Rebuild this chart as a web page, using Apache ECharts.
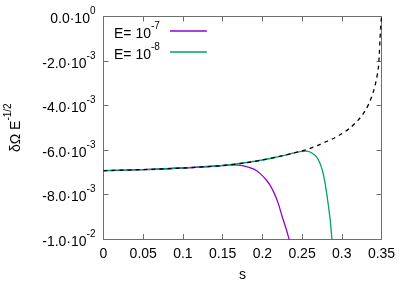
<!DOCTYPE html>
<html><head><meta charset="utf-8">
<script src="https://cdn.jsdelivr.net/npm/echarts@6/dist/echarts.min.js"></script>
<style>html,body{margin:0;padding:0;background:#fff}#c{width:407px;height:285px}</style>
</head><body><div id="c"></div>
<script>
// ---- data ----
var sDashed = [0, 0.05, 0.1, 0.15, 0.18, 0.2, 0.22, 0.24, 0.25, 0.26, 0.27, 0.28, 0.29, 0.3, 0.31, 0.32, 0.325, 0.33, 0.335, 0.34, 0.343, 0.346, 0.3472, 0.348, 0.349, 0.35];
var vDashed = [-6.93e-3, -6.88e-3, -6.81e-3, -6.70e-3, -6.57e-3, -6.45e-3, -6.30e-3, -6.13e-3, -6.04e-3, -5.93e-3, -5.79e-3, -5.63e-3, -5.47e-3, -5.27e-3, -5.02e-3, -4.68e-3, -4.47e-3, -4.20e-3, -3.85e-3, -3.35e-3, -2.93e-3, -2.33e-3, -1.70e-3, -1.10e-3, -0.45e-3, 0];

var sE7 = [0, 0.05, 0.1, 0.14, 0.16, 0.17, 0.18, 0.19, 0.197, 0.205, 0.21, 0.215, 0.22, 0.225, 0.23, 0.234, 0.236];
var vE7 = [-6.93e-3, -6.88e-3, -6.81e-3, -6.72e-3, -6.67e-3, -6.68e-3, -6.75e-3, -6.87e-3, -7.05e-3, -7.35e-3, -7.60e-3, -7.95e-3, -8.40e-3, -9.00e-3, -9.55e-3, -10.05e-3, -10.3e-3];

var sE8 = [0, 0.05, 0.1, 0.15, 0.2, 0.22, 0.24, 0.25, 0.255, 0.26, 0.265, 0.2685, 0.272, 0.275, 0.278, 0.281, 0.2835, 0.2855, 0.2873, 0.288];
var vE8 = [-6.93e-3, -6.88e-3, -6.81e-3, -6.70e-3, -6.45e-3, -6.30e-3, -6.13e-3, -6.06e-3, -6.05e-3, -6.09e-3, -6.20e-3, -6.32e-3, -6.55e-3, -6.85e-3, -7.30e-3, -7.95e-3, -8.60e-3, -9.15e-3, -9.90e-3, -10.2e-3];

var seriesNames = ['E7', 'E8'];
var legendExponents = ['-7', '-8'];
var xTickLabels = ['0', '0.05', '0.1', '0.15', '0.2', '0.25', '0.3', '0.35'];
// y tick labels from bottom (-0.01) to top (0): [mantissa, exponent]
var yTickLabels = [['-1.0', '-2'], ['-8.0', '-3'], ['-6.0', '-3'], ['-4.0', '-3'], ['-2.0', '-3'], ['0.0', '0']];

function zip(a, b) { return a.map(function (v, i) { return [v, b[i]]; }); }

var FONT = 'Liberation Sans';
var supStyle = { fontFamily: FONT, fontSize: 10, color: '#000', verticalAlign: 'top', lineHeight: 20 };
var baseStyle = { fontFamily: FONT, fontSize: 14, color: '#000', verticalAlign: 'bottom', lineHeight: 20 };
var legendSup = Object.assign({}, supStyle, { padding: [0, 5, 0, 0] });

var chart = echarts.init(document.getElementById('c'), null, { renderer: 'canvas' });
var axisLineStyle = { color: '#6e6e6e', width: 1 };

var option = {
  animation: false,
  backgroundColor: '#fff',
  grid: { left: 103.5, right: 25.5, top: 16.5, bottom: 46, containLabel: false, outerBoundsMode: 'none' },
  legend: {
    data: seriesNames.map(function (n) { return { name: n, icon: 'rect' }; }),
    orient: 'vertical',
    left: 109,
    top: 16,
    align: 'right',
    itemWidth: 37,
    itemHeight: 1.5,
    itemGap: 1,
    formatter: function (name) {
      var i = seriesNames.indexOf(name);
      return '{a|E= 10}{b|' + legendExponents[i] + '}';
    },
    textStyle: {
      rich: { a: baseStyle, b: legendSup }
    }
  },
  xAxis: [{
    type: 'value', min: 0, max: 0.35, interval: 0.05,
    name: 's', nameLocation: 'middle', nameGap: 29,
    nameTextStyle: { fontFamily: FONT, fontSize: 14, color: '#000' },
    axisLine: { show: true, onZero: false, lineStyle: axisLineStyle },
    axisTick: { show: true, inside: true, length: 5, lineStyle: axisLineStyle },
    axisLabel: {
      margin: 8, fontFamily: FONT, fontSize: 14, color: '#000',
      formatter: function (v) { return xTickLabels[Math.round(v / 0.05)]; }
    },
    splitLine: { show: false }
  }, {
    type: 'value', min: 0, max: 0.35, interval: 0.05, position: 'top',
    axisLine: { show: true, onZero: false, lineStyle: axisLineStyle },
    axisTick: { show: true, inside: true, length: 5, lineStyle: axisLineStyle },
    axisLabel: { show: false }, splitLine: { show: false }
  }],
  yAxis: [{
    type: 'value', min: -0.01, max: 0, interval: 0.002,
    name: '{a|δΩ E}{b|-1/2}', nameLocation: 'middle', nameRotate: 90, nameGap: 80,
    nameTextStyle: { rich: { a: baseStyle, b: supStyle } },
    axisLine: { show: true, onZero: false, lineStyle: axisLineStyle },
    axisTick: { show: true, inside: true, length: 5, lineStyle: axisLineStyle },
    axisLabel: {
      margin: 8,
      formatter: function (v) {
        var t = yTickLabels[Math.round((v + 0.01) / 0.002)];
        return '{a|' + t[0] + '·10}{b|' + t[1] + '}';
      },
      rich: { a: baseStyle, b: supStyle }
    },
    splitLine: { show: false }
  }, {
    type: 'value', min: -0.01, max: 0, interval: 0.002, position: 'right',
    axisLine: { show: true, onZero: false, lineStyle: axisLineStyle },
    axisTick: { show: true, inside: true, length: 5, lineStyle: axisLineStyle },
    axisLabel: { show: false }, splitLine: { show: false }
  }],
  series: [
    {
      name: 'E7', type: 'line', data: zip(sE7, vE7), symbol: 'none', smooth: 0.3, clip: true,
      lineStyle: { color: '#9400d3', width: 1.3 }, itemStyle: { color: '#9400d3' }
    },
    {
      name: 'E8', type: 'line', data: zip(sE8, vE8), symbol: 'none', smooth: 0.3, clip: true,
      lineStyle: { color: '#009e73', width: 1.3 }, itemStyle: { color: '#009e73' }
    },
    {
      name: 'limit', type: 'line', data: zip(sDashed, vDashed), symbol: 'none', smooth: 0.3, clip: true,
      lineStyle: { color: '#000', width: 1.3, type: [4, 4] }
    }
  ]
};
chart.setOption(option);
</script>
</body></html>
